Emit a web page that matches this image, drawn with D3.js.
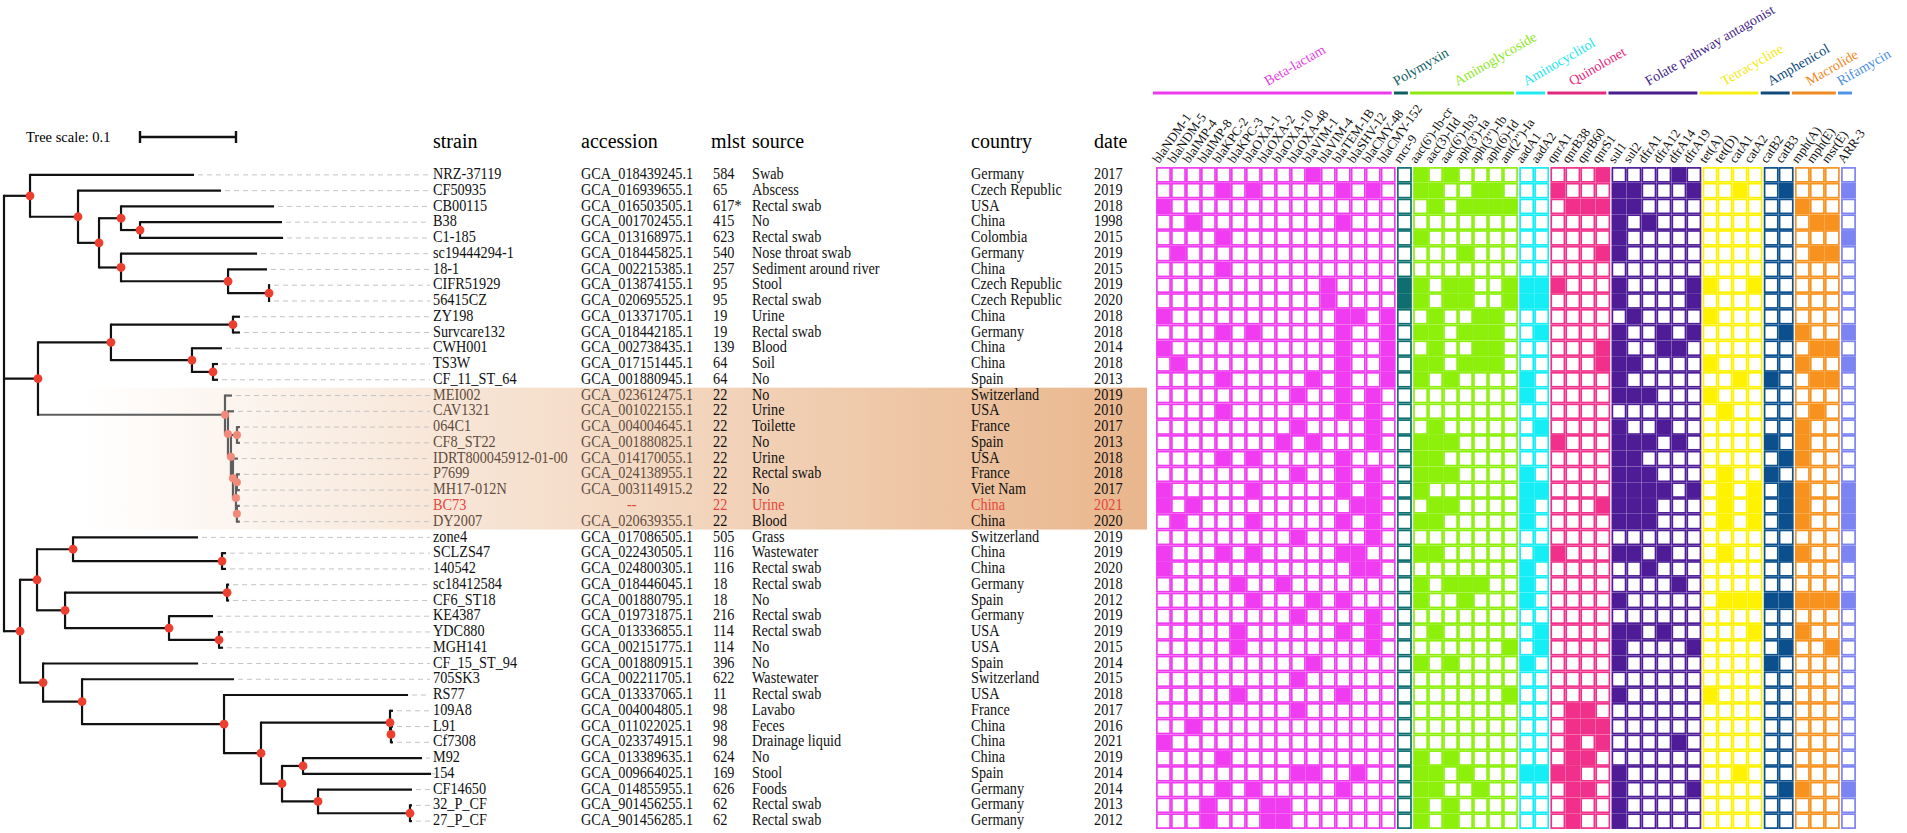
<!DOCTYPE html>
<html>
<head>
<meta charset="utf-8">
<script src="https://cdn.jsdelivr.net/npm/d3@7"></script>
<style>
    html, body { margin: 0; padding: 0; background: #fff; }
    svg { display: block; font-family: "Liberation Serif", "Times New Roman", serif; }
</style>
</head>
<body>
<svg id="chart" width="1907" height="833"></svg>
<script>
'use strict';

// ---- table columns, one entry per strain (tree order) ----
const strains = ['NRZ-37119', 'CF50935', 'CB00115', 'B38', 'C1-185', 'sc19444294-1', '18-1', 'CIFR51929', '56415CZ',
    'ZY198', 'Survcare132', 'CWH001', 'TS3W', 'CF_11_ST_64', 'MEI002', 'CAV1321', '064C1', 'CF8_ST22',
    'IDRT800045912-01-00', 'P7699', 'MH17-012N', 'BC73', 'DY2007', 'zone4', 'SCLZS47', '140542', 'sc18412584',
    'CF6_ST18', 'KE4387', 'YDC880', 'MGH141', 'CF_15_ST_94', '705SK3', 'RS77', '109A8', 'L91', 'Cf7308', 'M92',
    '154', 'CF14650', '32_P_CF', '27_P_CF'];

const accessions = ['GCA_018439245.1', 'GCA_016939655.1', 'GCA_016503505.1', 'GCA_001702455.1', 'GCA_013168975.1',
    'GCA_018445825.1', 'GCA_002215385.1', 'GCA_013874155.1', 'GCA_020695525.1', 'GCA_013371705.1', 'GCA_018442185.1',
    'GCA_002738435.1', 'GCA_017151445.1', 'GCA_001880945.1', 'GCA_023612475.1', 'GCA_001022155.1', 'GCA_004004645.1',
    'GCA_001880825.1', 'GCA_014170055.1', 'GCA_024138955.1', 'GCA_003114915.2', '--', 'GCA_020639355.1',
    'GCA_017086505.1', 'GCA_022430505.1', 'GCA_024800305.1', 'GCA_018446045.1', 'GCA_001880795.1', 'GCA_019731875.1',
    'GCA_013336855.1', 'GCA_002151775.1', 'GCA_001880915.1', 'GCA_002211705.1', 'GCA_013337065.1', 'GCA_004004805.1',
    'GCA_011022025.1', 'GCA_023374915.1', 'GCA_013389635.1', 'GCA_009664025.1', 'GCA_014855955.1', 'GCA_901456255.1',
    'GCA_901456285.1'];

const mlst = ['584', '65', '617*', '415', '623', '540', '257', '95', '95', '19', '19', '139', '64', '64',
    '22', '22', '22', '22', '22', '22', '22', '22', '22', '505', '116', '116', '18', '18', '216', '114', '114',
    '396', '622', '11', '98', '98', '98', '624', '169', '626', '62', '62'];

const sources = ['Swab', 'Abscess', 'Rectal swab', 'No', 'Rectal swab', 'Nose throat swab', 'Sediment around river',
    'Stool', 'Rectal swab', 'Urine', 'Rectal swab', 'Blood', 'Soil', 'No', 'No', 'Urine', 'Toilette', 'No', 'Urine',
    'Rectal swab', 'No', 'Urine', 'Blood', 'Grass', 'Wastewater', 'Rectal swab', 'Rectal swab', 'No', 'Rectal swab',
    'Rectal swab', 'No', 'No', 'Wastewater', 'Rectal swab', 'Lavabo', 'Feces', 'Drainage liquid', 'No', 'Stool',
    'Foods', 'Rectal swab', 'Rectal swab'];

const countries = ['Germany', 'Czech Republic', 'USA', 'China', 'Colombia', 'Germany', 'China', 'Czech Republic',
    'Czech Republic', 'China', 'Germany', 'China', 'China', 'Spain', 'Switzerland', 'USA', 'France', 'Spain', 'USA',
    'France', 'Viet Nam', 'China', 'China', 'Switzerland', 'China', 'China', 'Germany', 'Spain', 'Germany', 'USA',
    'USA', 'Spain', 'Switzerland', 'USA', 'France', 'China', 'China', 'China', 'Spain', 'Germany', 'Germany',
    'Germany'];

const dates = ['2017', '2019', '2018', '1998', '2015', '2019', '2015', '2019', '2020', '2018', '2018', '2014', '2018',
    '2013', '2019', '2010', '2017', '2013', '2018', '2018', '2017', '2021', '2020', '2019', '2019', '2020', '2018',
    '2012', '2019', '2019', '2015', '2014', '2015', '2018', '2017', '2016', '2021', '2019', '2014', '2014', '2013',
    '2012'];

const headers = ['strain', 'accession', 'mlst', 'source', 'country', 'date'];

const queryStrain = 'BC73';
const cladeFirst = 'MEI002';
const cladeLast = 'DY2007';

// ---- phylogeny (branch lengths in substitutions / site) ----
const cladeTop = "(NRZ-37119:0.1708,(CF50935:0.149,((CB00115:0.1594,(B38:0.1479,C1-185:0.149):0.0198):0.0229," +
    "(sc19444294-1:0.1417,(18-1:0.0406,(CIFR51929:0.001,56415CZ:0.001):0.0427):0.1115):0.0229):0.0219):0.05):0.0271";
const cladeMid = "(((ZY198:0.0073,Survcare132:0.0073):0.1271,(CWH001:0.0313,(TS3W:0.0052,CF_11_ST_64:0.0052):0.0219)" +
    ":0.0844):0.076,(MEI002:0.0073,(CAV1321:0.0063,((064C1:0.0031,CF8_ST22:0.0031):0.0063,(IDRT800045912-01-00:0.0052," +
    "((P7699:0.0031,MH17-012N:0.0031):0.001,(BC73:0.0031,DY2007:0.0031):0.001):0.0031):0.0021):0.0031):0.0031):0.1948)" +
    ":0.0354";
const cladeBot = "(((zone4:0.1302,(SCLZS47:0.0042,140542:0.0042):0.1552):0.0375,((sc18412584:0.0021,CF6_ST18:0.0021)" +
    ":0.1688,(KE4387:0.0458,(YDC880:0.0042,MGH141:0.0042):0.0521):0.1083):0.0292):0.0177,(CF_15_ST_94:0.1615," +
    "(705SK3:0.1583,(RS77:0.1917,((109A8:0.0031,(L91:0.0021,Cf7308:0.0021):0.001):0.1344,((M92:0.124,154:0.1333)" +
    ":0.0219,(CF14650:0.0979,(32_P_CF:0.0021,27_P_CF:0.0021):0.0958):0.0375):0.0219):0.0385):0.1479):0.0406):0.024)" +
    ":0.0167";
const treeNewick = '(' + [cladeTop, cladeMid, cladeBot].join(',') + ');';
const treeScaleValue = 0.1;

// ---- resistance genes ----
const genes = ['blaNDM-1', 'blaNDM-5', 'blaIMP-4', 'blaIMP-8', 'blaKPC-2', 'blaKPC-3', 'blaOXA-1', 'blaOXA-2',
    'blaOXA-10', 'blaOXA-48', 'blaVIM-1', 'blaVIM-4', 'blaTEM-1B', 'blaSHV-12', 'blaCMY-48', 'blaCMY-152',
    'mcr-9',
    "aac(6')-Ib-cr", 'aac(3)-IId', "aac(6')-Ib3", "aph(3')-Ia", 'aph(3")-Ib', 'aph(6)-Id', 'ant(2")-Ia',
    'aadA1', 'aadA2',
    'qnrA1', 'qnrB38', 'qnrB60', 'qnrS1',
    'sul1', 'sul2', 'dfrA1', 'dfrA12', 'dfrA14', 'dfrA19',
    'tet(A)', 'tet(D)', 'catA1', 'catA2',
    'catB2', 'catB3',
    'mph(A)', 'mph(E)', 'msr(E)',
    'ARR-3'];

const drugClasses = ['Beta-lactam', 'Polymyxin', 'Aminoglycoside', 'Aminocyclitol', 'Quinolonet',
    'Folate pathway antagonist', 'Tetracycline', 'Amphenicol', 'Macrolide', 'Rifamycin'];
const classSizes = [16, 1, 7, 2, 4, 6, 4, 2, 3, 1];

// genes found in each strain, same order as strains
const resistance = [
    ['blaVIM-1', "aac(6')-Ib-cr", "aac(6')-Ib3", 'qnrS1', 'dfrA14'],
    ['blaKPC-2', 'blaOXA-1', 'blaTEM-1B', 'blaCMY-48', "aac(6')-Ib-cr", 'aac(3)-IId', 'aph(3")-Ib', 'aph(6)-Id', 'qnrA1', 'sul1', 'sul2', 'dfrA19', 'catA1', 'catB3', 'ARR-3'],
    ['blaNDM-1', 'aac(3)-IId', "aph(3')-Ia", 'aph(3")-Ib', 'aph(6)-Id', 'ant(2")-Ia', 'qnrB38', 'qnrB60', 'qnrS1', 'sul1', 'sul2', 'mph(A)'],
    ['blaIMP-4', 'blaTEM-1B', 'sul1', 'dfrA1', 'mph(E)', 'msr(E)'],
    ['blaKPC-2', "aac(6')-Ib-cr", 'sul1', 'ARR-3'],
    ['blaNDM-5', "aph(3')-Ia", 'qnrS1', 'sul1', 'mph(E)', 'msr(E)'],
    ['blaKPC-2'],
    ['blaVIM-4', 'mcr-9', "aac(6')-Ib-cr", "aac(6')-Ib3", "aph(3')-Ia", 'ant(2")-Ia', 'aadA1', 'aadA2', 'qnrA1', 'sul1', 'dfrA19', 'tet(A)', 'catA2'],
    ['blaVIM-4', 'mcr-9', "aac(6')-Ib-cr", "aac(6')-Ib3", "aph(3')-Ia", 'ant(2")-Ia', 'aadA1', 'aadA2', 'sul1', 'dfrA19'],
    ['blaNDM-1', 'blaTEM-1B', 'blaSHV-12', 'blaCMY-152', 'aac(3)-IId', 'aph(3")-Ib', 'aph(6)-Id', 'sul2', 'tet(A)'],
    ['blaKPC-2', 'blaOXA-1', 'blaTEM-1B', 'blaCMY-152', "aac(6')-Ib-cr", 'aac(3)-IId', "aph(3')-Ia", 'aph(3")-Ib', 'aph(6)-Id', 'aadA2', 'sul1', 'dfrA12', 'dfrA19', 'catB3', 'mph(A)', 'ARR-3'],
    ['blaNDM-1', 'blaTEM-1B', 'blaCMY-152', 'aac(3)-IId', 'aph(3")-Ib', 'aph(6)-Id', 'qnrS1', 'sul1', 'dfrA12', 'dfrA14', 'mph(E)', 'msr(E)'],
    ['blaNDM-5', 'blaTEM-1B', 'blaCMY-152', "aac(6')-Ib-cr", 'aac(3)-IId', "aph(3')-Ia", 'aph(3")-Ib', 'aph(6)-Id', 'qnrS1', 'sul1', 'sul2', 'tet(A)', 'mph(A)', 'ARR-3'],
    ['blaKPC-2', 'blaVIM-1', 'blaTEM-1B', 'blaCMY-152', "aac(6')-Ib-cr", "aac(6')-Ib3", 'aadA1', 'sul1', 'catA1', 'catB2', 'mph(E)', 'msr(E)'],
    ['blaOXA-48', 'blaTEM-1B', 'blaCMY-48', 'aadA1', 'sul1', 'sul2', 'dfrA1', 'tet(A)'],
    ['blaKPC-2', 'blaTEM-1B', 'blaCMY-48', 'tet(D)', 'mph(E)'],
    ['blaOXA-48', 'blaCMY-48', 'aac(3)-IId', 'aadA2', 'sul1', 'dfrA12', 'mph(A)'],
    ['blaOXA-10', 'blaVIM-1', 'blaCMY-48', "aac(6')-Ib-cr", 'aac(3)-IId', "aac(6')-Ib3", 'qnrA1', 'sul1', 'sul2', 'dfrA1', 'dfrA14', 'catB2', 'mph(A)'],
    ['blaKPC-2', 'blaOXA-1', 'blaTEM-1B', "aac(6')-Ib-cr", 'aac(3)-IId', 'sul1', 'sul2', 'catB3', 'mph(A)'],
    ['blaOXA-48', 'blaTEM-1B', 'blaCMY-48', "aac(6')-Ib-cr", 'aac(3)-IId', "aac(6')-Ib3", 'aadA1', 'sul1', 'sul2', 'dfrA1', 'tet(D)', 'catB2'],
    ['blaNDM-1', 'blaOXA-1', 'blaTEM-1B', 'blaCMY-48', "aac(6')-Ib-cr", 'aadA1', 'aadA2', 'sul1', 'sul2', 'dfrA1', 'dfrA12', 'dfrA19', 'tet(D)', 'catA2', 'catB3', 'mph(A)', 'ARR-3'],
    ['blaNDM-1', 'blaIMP-4', 'blaSHV-12', 'blaCMY-48', 'aac(3)-IId', "aac(6')-Ib3", 'aadA1', 'qnrS1', 'sul1', 'sul2', 'dfrA1', 'tet(D)', 'catA2', 'catB3', 'mph(A)', 'ARR-3'],
    ['blaNDM-5', 'blaOXA-1', 'blaTEM-1B', 'blaCMY-48', "aac(6')-Ib-cr", 'aac(3)-IId', 'aadA1', 'sul1', 'sul2', 'dfrA1', 'tet(D)', 'catA2', 'catB3', 'mph(A)', 'ARR-3'],
    ['blaOXA-48', 'blaCMY-48'],
    ['blaNDM-1', 'blaKPC-2', 'blaOXA-1', 'blaTEM-1B', 'blaSHV-12', "aac(6')-Ib-cr", 'aac(3)-IId', 'aadA2', 'qnrA1', 'sul1', 'sul2', 'dfrA12', 'tet(D)', 'catB3', 'mph(A)', 'ARR-3'],
    ['blaNDM-1', 'blaSHV-12', 'blaCMY-48', 'aadA1', 'dfrA1'],
    ['blaKPC-3', 'blaOXA-10', "aac(6')-Ib-cr", "aac(6')-Ib3", "aph(3')-Ia", 'aph(3")-Ib', 'aadA1', 'dfrA14'],
    ['blaOXA-1', 'blaVIM-1', 'blaTEM-1B', "aac(6')-Ib-cr", "aph(3')-Ia", 'aadA1', 'sul1', 'tet(D)', 'catA1', 'catA2', 'catB2', 'catB3', 'mph(A)', 'mph(E)', 'msr(E)', 'ARR-3'],
    ['blaOXA-48', 'blaCMY-48'],
    ['blaKPC-3', 'blaTEM-1B', 'blaCMY-48', 'aac(3)-IId', 'aadA2', 'sul1', 'sul2', 'dfrA12', 'catA2', 'mph(A)'],
    ['blaKPC-3', 'blaCMY-48', 'ant(2")-Ia', 'aadA2', 'sul1', 'dfrA19', 'catB3', 'msr(E)'],
    ['blaVIM-1', "aac(6')-Ib-cr", "aac(6')-Ib3", 'aadA1', 'sul1', 'catB2'],
    ['blaOXA-48'],
    ['blaKPC-3', 'blaTEM-1B', 'ant(2")-Ia', 'sul1', 'tet(A)'],
    ['blaOXA-48', 'qnrB38', 'qnrB60'],
    ['blaIMP-4', 'qnrB38', 'qnrB60', 'qnrS1'],
    ['blaNDM-1', 'qnrB38', 'qnrS1', 'dfrA14'],
    ['blaKPC-2', "aac(6')-Ib-cr", "aac(6')-Ib3", 'qnrB38', 'qnrB60'],
    ['blaOXA-48', 'blaVIM-1', 'blaSHV-12', "aac(6')-Ib-cr", 'aac(3)-IId', "aph(3')-Ia", 'aadA1', 'aadA2', 'qnrA1', 'qnrB38', 'sul1', 'catA1'],
    ['blaKPC-2', 'blaOXA-1', 'blaTEM-1B', "aac(6')-Ib-cr", 'aac(3)-IId', 'aph(3")-Ib', 'qnrB38', 'qnrB60', 'sul1', 'dfrA19', 'catB3', 'mph(A)', 'ARR-3'],
    ['blaIMP-8', 'blaOXA-2', 'blaOXA-10', "aac(6')-Ib-cr", "aac(6')-Ib3", 'qnrB38', 'sul1'],
    ['blaIMP-8', 'blaOXA-2', 'blaOXA-10', "aac(6')-Ib-cr", "aac(6')-Ib3", 'qnrB38', 'sul1']
];

// ---- styling ----
const cellColors = ['#f03cf0', '#0e6e70', '#8cf00a', '#14eef4', '#f0308a', '#4e1c96', '#fff200', '#0b4f8c', '#f7921e', '#7c84f2'];
const barColors = ['#ee3aee', '#0e5e60', '#8ce812', '#22e8f0', '#e02a80', '#4a1c90', '#f7ef12', '#0e4a7c', '#f08a22', '#4f94e8'];
const labelColors = ['#e53fe0', '#0b5e5e', '#8ee81a', '#22e6ee', '#e62a7e', '#3f1e8c', '#f2ea10', '#0e4a7c', '#f08a22', '#4a8fe0'];

const svg = d3.select('#chart');
const defs = svg.append('defs');

// ---- scales ----
const yRow = d3.scaleBand().domain(strains).range([167, 829]);
const rowMid = s => yRow(s) + yRow.bandwidth() / 2;
const xTree = d3.scaleLinear().domain([0, treeScaleValue]).range([4, 100]);

const classGap = 1.2;
const geneClass = [];
classSizes.forEach((n, i) => { for (let k = 0; k < n; k++) geneClass.push(i); });
const xGene = d3.scaleBand().domain(genes).range([1156, 1856 - (drugClasses.length - 1) * classGap]);
const cellX = g => xGene(g) + geneClass[genes.indexOf(g)] * classGap;

// ---- newick -> hierarchy ----
function parseNewick(s){
    const stack = [];
    const tokens = s.split(/\s*(;|\(|\)|,|:)\s*/);
    let node = {};
    for (let i = 0; i < tokens.length; i++) {
        const t = tokens[i];
        if (t === '(') {
            const c = {};
            node.branchset = [c];
            stack.push(node);
            node = c;
        } else if (t === ',') {
            const c = {};
            stack[stack.length - 1].branchset.push(c);
            node = c;
        } else if (t === ')') {
            node = stack.pop();
        } else if (t !== ':' && t !== ';' && t !== '') {
            const prev = tokens[i - 1];
            if (prev === ':') node.length = parseFloat(t);
            else node.name = t;
        }
    }
    return node;
}

const root = d3.hierarchy(parseNewick(treeNewick), d => d.branchset);
root.eachBefore(d => { d.len = d.parent ? d.parent.len + (d.data.length || 0) : 0; });
root.eachAfter(d => {
    d.px = xTree(d.len);
    d.py = d.children
        ? (d.children[0].py + d.children[d.children.length - 1].py) / 2
        : rowMid(d.data.name);
});

const leafA = root.leaves().find(l => l.data.name === cladeFirst);
const leafB = root.leaves().find(l => l.data.name === cladeLast);
const cladeRoot = leafA.path(leafB).reduce((a, b) => (b.depth < a.depth ? b : a));
const inClade = new Set(cladeRoot.descendants());

// ---- highlighted ST22 band ----
const grad = defs.append('linearGradient')
    .attr('id', 'band')
    .attr('gradientUnits', 'userSpaceOnUse')
    .attr('x1', 80).attr('x2', 1147).attr('y1', 0).attr('y2', 0);
grad.append('stop').attr('offset', 0).attr('stop-color', 'rgb(233,182,140)').attr('stop-opacity', 0);
grad.append('stop').attr('offset', 1).attr('stop-color', 'rgb(233,182,140)').attr('stop-opacity', 1);

svg.append('rect')
    .attr('x', 80)
    .attr('y', yRow(cladeFirst))
    .attr('width', 1147 - 80)
    .attr('height', yRow(cladeLast) + yRow.bandwidth() - yRow(cladeFirst))
    .attr('fill', 'url(#band)');

// ---- tree ----
const gTree = svg.append('g').attr('fill', 'none');

gTree.selectAll('path.lead')
    .data(root.leaves())
    .join('path')
    .attr('class', 'lead')
    .attr('d', d => `M${d.px + 4},${d.py}H430`)
    .attr('stroke', '#c4c4c4')
    .attr('stroke-width', 1)
    .attr('stroke-dasharray', '5,4');

gTree.selectAll('path.branch')
    .data(root.descendants().filter(d => d.parent))
    .join('path')
    .attr('class', 'branch')
    .attr('d', d => `M${d.parent.px},${d.py}H${d.px}`)
    .attr('stroke', d => inClade.has(d) ? '#5e5e5e' : '#111')
    .attr('stroke-width', 2.2);

gTree.selectAll('path.fork')
    .data(root.descendants().filter(d => d.children))
    .join('path')
    .attr('class', 'fork')
    .attr('d', d => `M${d.px},${d.children[0].py - 1}V${d.children[d.children.length - 1].py + 1}`)
    .attr('stroke', d => inClade.has(d) ? '#5e5e5e' : '#111')
    .attr('stroke-width', 2.2);

gTree.selectAll('circle')
    .data(root.descendants().filter(d => d.children && d.parent))
    .join('circle')
    .attr('cx', d => d.px)
    .attr('cy', d => d.py)
    .attr('r', d => inClade.has(d) ? 4 : 4.4)
    .attr('fill', d => inClade.has(d) ? '#f28a7c' : '#ec3f2f');

// tree scale
const scaleLen = xTree(treeScaleValue) - xTree(0);
svg.append('text')
    .attr('x', 26).attr('y', 142)
    .attr('font-size', 14.5)
    .text(`Tree scale: ${treeScaleValue}`);
svg.append('path')
    .attr('d', `M140,137H${140 + scaleLen}M140,131V143M${140 + scaleLen},131V143`)
    .attr('stroke', '#111')
    .attr('stroke-width', 2.4)
    .attr('fill', 'none');

// ---- metadata table ----
const columns = [
    {key: 'strain', values: strains, x: 433},
    {key: 'accession', values: accessions, x: 581},
    {key: 'mlst', values: mlst, x: 713},
    {key: 'source', values: sources, x: 752},
    {key: 'country', values: countries, x: 971},
    {key: 'date', values: dates, x: 1094}
];

svg.append('g')
    .selectAll('text')
    .data(headers)
    .join('text')
    .attr('x', (d, i) => columns[i].x - (i === 2 ? 2 : 0))
    .attr('y', 148)
    .attr('font-size', 20)
    .text(d => d);

const cladeSet = new Set(strains.slice(strains.indexOf(cladeFirst), strains.indexOf(cladeLast) + 1));

columns.forEach((col, ci) => {
    svg.append('g')
        .selectAll('text')
        .data(strains)
        .join('text')
        .attr('transform', s => {
            const acc = col.key === 'accession' && s === queryStrain;
            return `translate(${col.x + (acc ? 46 : 0)},${yRow(s) + 12}) scale(0.84,1)`;
        })
        .attr('font-size', 17)
        .attr('fill', s => {
            if (s === queryStrain) return '#e4463c';
            if (cladeSet.has(s) && ci < 2) return '#5f4d40';
            return '#111';
        })
        .text((s, i) => col.values[i]);
});

// ---- resistance heatmap ----
const gHeat = svg.append('g');
const cellW = xGene.bandwidth();
const cellH = yRow.bandwidth();

strains.forEach((s, r) => {
    const present = new Set(resistance[r]);
    gHeat.append('g')
        .selectAll('rect')
        .data(genes)
        .join('rect')
        .attr('x', g => cellX(g) + 0.9)
        .attr('y', yRow(s) + 0.9)
        .attr('width', cellW - 1.8)
        .attr('height', cellH - 1.8)
        .attr('fill', g => present.has(g) ? cellColors[geneClass[genes.indexOf(g)]] : '#fff')
        .attr('stroke', g => cellColors[geneClass[genes.indexOf(g)]])
        .attr('stroke-width', 1.7);
});

// gene names
svg.append('g')
    .selectAll('text')
    .data(genes)
    .join('text')
    .attr('transform', g => `translate(${cellX(g) + 3},164) rotate(-55)`)
    .attr('font-size', 13)
    .attr('fill', '#111')
    .text(g => g);

// drug class bars and names
const classGenes = drugClasses.map((c, i) => genes.filter((g, k) => geneClass[k] === i));

svg.append('g')
    .selectAll('line')
    .data(drugClasses)
    .join('line')
    .attr('x1', (c, i) => cellX(classGenes[i][0]) - 3)
    .attr('x2', (c, i) => cellX(classGenes[i][classGenes[i].length - 1]) + cellW - 4)
    .attr('y1', 93).attr('y2', 93)
    .attr('stroke', (c, i) => barColors[i])
    .attr('stroke-width', 3);

svg.append('g')
    .selectAll('text')
    .data(drugClasses)
    .join('text')
    .attr('transform', (c, i) => {
        const first = cellX(classGenes[i][0]);
        const last = cellX(classGenes[i][classGenes[i].length - 1]) + cellW;
        return `translate(${(first + last) / 2 - 8},86) rotate(-30)`;
    })
    .attr('font-size', 14)
    .attr('fill', (c, i) => labelColors[i])
    .text(c => c);
</script>
